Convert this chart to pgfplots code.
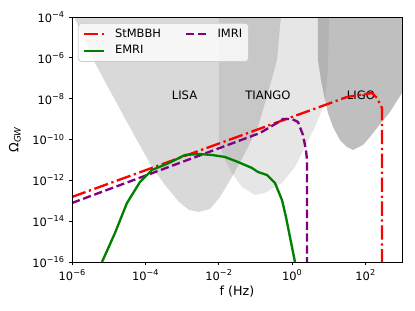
\documentclass[border=0pt]{standalone}
\usepackage{pgfplots}
\pgfplotsset{compat=1.18}
\usepackage{fontspec}
\setmainfont{DejaVu Sans}
\newcommand{\tp}[1]{10\raisebox{0.42em}{\fontsize{6.1}{6}\selectfont #1}}
\definecolor{mplgreen}{RGB}{0,128,0}
\definecolor{mplpurple}{RGB}{128,0,128}
\begin{document}
\begin{tikzpicture}
\useasboundingbox (0,0) rectangle (311.25pt,233.25pt);
\begin{axis}[
  at={(54pt,36.75pt)}, anchor=south west,
  width=247.5pt, height=183.75pt, scale only axis,
  xmode=log, ymode=log,
  xmin=1e-6, xmax=1e3, ymin=1e-16, ymax=1e-4,
  xtick={1e-6,1e-4,1e-2,1,1e2},
  xticklabels={\tp{−6},\tp{−4},\tp{−2},\tp{0},\tp{2}},
  ytick={1e-16,1e-14,1e-12,1e-10,1e-8,1e-6,1e-4},
  yticklabels={\tp{−16},\tp{−14},\tp{−12},\tp{−10},\tp{−8},\tp{−6},\tp{−4}},
  xminorticks=false, yminorticks=false,
  tick align=outside, tick pos=left,
  major tick length=2.4pt,
  every tick/.style={black, line width=0.6pt},
  axis line style={line width=0.6pt},
  axis on top,
  tick label style={font=\fontsize{8.6}{10}\selectfont},
  xlabel={f (Hz)}, ylabel={Ω\textsubscript{\textit{GW}}},
  label style={font=\fontsize{9.5}{11}\selectfont},
  xlabel style={at={(axis description cs:0.5,-0.1224)}, anchor=center},
  ylabel style={at={(axis description cs:-0.173,0.5)}, anchor=center},
  legend columns=2,
  legend cell align=left,
  legend style={at={(rel axis cs:0.018,0.976)}, anchor=north west,
    draw=black!20, line width=0.6pt, fill=white, fill opacity=0.8, text opacity=1, draw opacity=1,
    rounded corners=2.5pt, font=\fontsize{8.6}{10}\selectfont,
    inner xsep=3pt, inner ysep=2pt, row sep=0.8pt,
    nodes={inner sep=1.8pt, text height=6.5pt, text depth=1.8pt},
    /tikz/every odd column/.append style={column sep=6pt},
    /tikz/every even column/.append style={column sep=16pt}},
  legend image code/.code={\draw[#1] (0pt,0pt) -- (15pt,0pt);},
]
% sensitivity regions
\addplot[fill=gray, fill opacity=0.3, draw=none, forget plot] coordinates {
 (1.135e-6,1e-4) (4.236e-6,5.585e-7) (1.489e-5,8.61e-9) (4.603e-5,2.084e-10)
 (1.521e-4,4.508e-12) (3.436e-4,5.93e-13) (8.28e-4,8.71e-14) (1.552e-3,3.532e-14)
 (2.904e-3,2.818e-14) (5.794e-3,3.954e-14) (1.086e-2,1.531e-13) (2.307e-2,1.462e-12)
 (5.224e-2,2.188e-11) (0.1180,4.102e-10) (0.2213,1.897e-8) (0.389,7.83e-7) (0.5,1e-4)} -- cycle;
\addplot[fill=gray, fill opacity=0.2, draw=none, forget plot] coordinates {
 (1.021e-2,1e-4) (1.021e-2,9.46e-11) (1.233e-2,2.449e-11) (1.486e-2,9.93e-12)
 (2.307e-2,2.291e-12) (4.325e-2,4.73e-13) (9.77e-2,1.919e-13) (0.1832,2.404e-13)
 (0.5333,7.43e-13) (1.205,4.508e-12) (2.259,4.305e-11) (4.236,4.102e-10)
 (7.925,6.14e-9) (9.57,2.535e-7) (10.19,1e-4)} -- cycle;
\addplot[fill=gray, fill opacity=0.5, draw=none, forget plot] coordinates {
 (5.105,1e-4) (5.105,7.83e-7) (6.166,8.22e-8) (7.447,1.514e-8) (9.57,1.991e-9)
 (13.12,4.102e-10) (20.32,9.46e-11) (31.55,4.305e-11) (46.03,3.069e-11)
 (86.3,5.395e-11) (134.0,1.327e-10) (207.5,3.664e-10) (469.9,2.228e-9)
 (1000,1.897e-8) (1000,1e-4)} -- cycle;
\node[font=\fontsize{8.7}{10}\selectfont] at (axis cs:1.17e-3,1.514e-8) {LISA};
\node[font=\fontsize{8.7}{10}\selectfont] at (axis cs:0.2213,1.514e-8) {TIANGO};
\node[font=\fontsize{8.7}{10}\selectfont] at (axis cs:76,1.514e-8) {LIGO};
% StMBBH
\addplot[red, line width=1.75pt, dash pattern=on 10.8pt off 2.7pt on 1.7pt off 2.7pt] coordinates {
 (1e-6,1.531e-13) (31.55,1.208e-8) (151.7,1.897e-8) (207.5,1.079e-8) (284.4,3.50e-9) (284.4,1e-17)};
\addlegendentry{StMBBH}
% IMRI
\addplot[mplpurple, line width=1.75pt, dash pattern=on 6.2pt off 2.7pt] coordinates {
 (1e-6,7.78e-14) (0.1340,2.084e-10) (0.3890,6.44e-10) (0.5675,1.012e-9) (1.0,1.012e-9)
 (1.455,7.21e-10) (1.995,1.660e-10) (2.404,3.09e-11) (2.564,1e-11) (2.564,1e-17)};
\addlegendentry{IMRI}
% EMRI
\addplot[mplgreen, line width=1.75pt] coordinates {
 (6.577e-6,1e-16) (1.489e-5,2.642e-15) (3.162e-5,7.78e-14) (7.145e-5,8.32e-13)
 (1.521e-4,3.214e-12) (4.416e-4,7.08e-12) (1.208e-3,1.746e-11) (2.904e-3,1.954e-11)
 (6.577e-3,1.746e-11) (1.486e-2,1.393e-11) (3.365e-2,7.93e-12) (8.110e-2,4.03e-12)
 (0.1180,2.564e-12) (0.2080,1.828e-12) (0.3436,7.43e-13) (0.5333,1.091e-13)
 (0.6855,1.607e-14) (0.8810,1.683e-15) (1.205,1e-16)};
\addlegendentry{EMRI}
\end{axis}
\end{tikzpicture}
\end{document}
